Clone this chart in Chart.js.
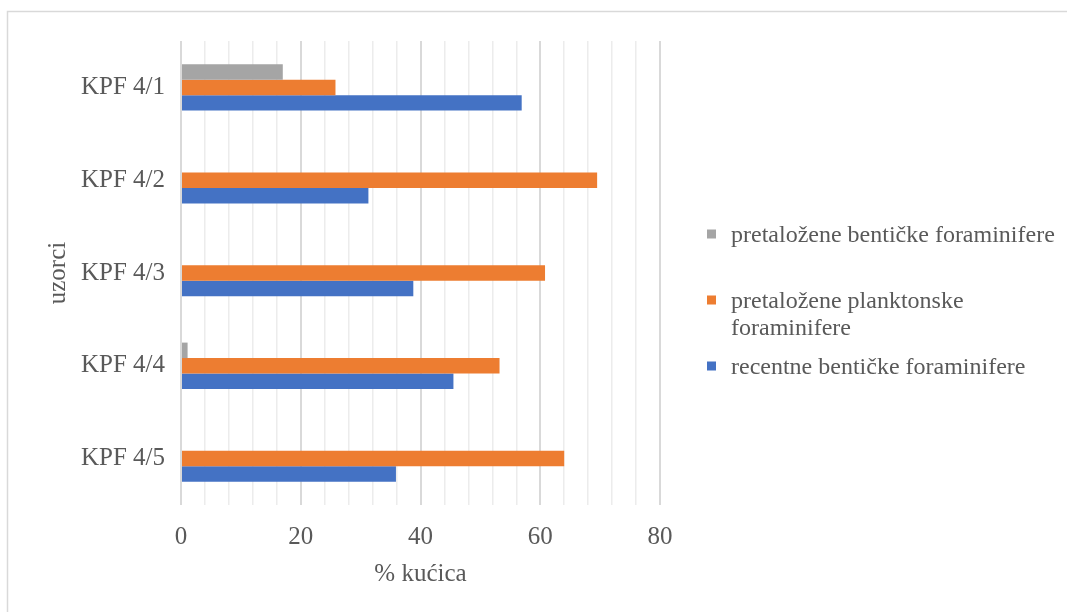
<!DOCTYPE html>
<html>
<head>
<meta charset="utf-8">
<script src="https://cdn.jsdelivr.net/npm/chart.js@4.4.1/dist/chart.umd.min.js"></script>
<style>
    html, body { margin: 0; padding: 0; background: #fff; }
    #okvir { width: 1067px; height: 612px; position: relative; }
</style>
</head>
<body>
<div id="okvir"><canvas id="graf"></canvas></div>
<script>
// ── Podaci ────────────────────────────────────────────────────────────
const uzorci = ['KPF 4/1', 'KPF 4/2', 'KPF 4/3', 'KPF 4/4', 'KPF 4/5'];
const pretalozeneBenticke    = [17, 0, 0, 1.1, 0];
const pretalozenePlanktonske = [25.8, 69.5, 60.8, 53.2, 64];
const recentneBenticke       = [56.9, 31.3, 38.8, 45.5, 35.9];
const nazivi = [
    'pretaložene bentičke foraminifere',
    'pretaložene planktonske foraminifere',
    'recentne bentičke foraminifere',
];
const boje = ['#a5a5a5', '#ed7d31', '#4472c4'];
const glavniKorak = 20;   // označene vrijednosti osi x: 0, 20, 40, 60, 80
const sporedniKorak = 4;  // svijetle pomoćne linije
const xMax = 80;

const FONT = '"Liberation Serif", "Times New Roman", serif';
const SIVA = '#595959';

// okvir oko cijelog grafikona
const okvirPlugin = {
    id: 'okvir',
    beforeDraw(chart) {
        const ctx = chart.ctx;
        ctx.save();
        ctx.strokeStyle = '#d9d9d9';
        ctx.lineWidth = 1.5;
        ctx.strokeRect(7.5, 11.5, chart.width + 20, chart.height + 20);
        ctx.restore();
    },
};

// legenda desno, s prelamanjem dugih naziva
const legendaPlugin = {
    id: 'legenda',
    afterDraw(chart) {
        const ctx = chart.ctx;
        const x0 = chart.chartArea.right + 47;
        const maxSirina = 330;
        ctx.save();
        ctx.font = '24px ' + FONT;
        ctx.textBaseline = 'middle';
        ctx.fillStyle = SIVA;
        let y = 234;
        chart.data.datasets.forEach((ds) => {
            // prelamanje riječi
            const rijeci = ds.label.split(' ');
            const redovi = [];
            let red = '';
            rijeci.forEach((r) => {
                const probni = red ? red + ' ' + r : r;
                if (ctx.measureText(probni).width > maxSirina && red) {
                    redovi.push(red);
                    red = r;
                } else {
                    red = probni;
                }
            });
            redovi.push(red);

            ctx.fillStyle = ds.backgroundColor;
            ctx.fillRect(x0, y - 4.5, 9, 9);
            ctx.fillStyle = SIVA;
            redovi.forEach((t, i) => ctx.fillText(t, x0 + 24, y + 2 + i * 27));
            y += 66;
        });
        ctx.restore();
    },
};

new Chart(document.getElementById('graf'), {
    type: 'bar',
    data: {
        labels: uzorci,
        datasets: [
            { label: nazivi[0], data: pretalozeneBenticke,    backgroundColor: boje[0] },
            { label: nazivi[1], data: pretalozenePlanktonske, backgroundColor: boje[1] },
            { label: nazivi[2], data: recentneBenticke,       backgroundColor: boje[2] },
        ],
    },
    options: {
        indexAxis: 'y',
        responsive: true,
        maintainAspectRatio: false,
        animation: false,
        layout: { padding: { left: 28, top: 41, right: 407, bottom: 0 } },
        datasets: { bar: { categoryPercentage: 0.5, barPercentage: 1, borderWidth: 0 } },
        plugins: {
            legend: { display: false },
            tooltip: { enabled: false },
        },
        scales: {
            x: {
                min: 0,
                max: xMax,
                border: { display: false },
                grid: {
                    drawTicks: false,
                    color: (c) => (c.tick && c.tick.value % glavniKorak === 0 ? '#d9d9d9' : '#ececec'),
                    lineWidth: (c) => (c.tick && c.tick.value % glavniKorak === 0 ? 2 : 1.5),
                },
                ticks: {
                    stepSize: sporedniKorak,
                    autoSkip: false,
                    maxRotation: 0,
                    padding: 17,
                    color: SIVA,
                    font: { family: FONT, size: 25 },
                },
                title: {
                    display: true,
                    text: '% kućica',
                    color: SIVA,
                    font: { family: FONT, size: 25 },
                    padding: { top: 0, bottom: 23 },
                },
                afterFit: (s) => { s.height = 107; },
            },
            y: {
                border: { display: false },
                grid: { display: false, drawTicks: false },
                ticks: {
                    padding: 16,
                    color: SIVA,
                    font: { family: FONT, size: 25 },
                },
                title: {
                    display: true,
                    text: 'uzorci',
                    color: SIVA,
                    font: { family: FONT, size: 25 },
                    padding: { top: 15, bottom: 0 },
                },
                afterFit: (s) => { s.width = 153; },
            },
        },
    },
    plugins: [okvirPlugin, legendaPlugin],
});

// oznake osi x samo na glavnim vrijednostima
Chart.getChart('graf').options.scales.x.ticks.callback = (v) => (v % glavniKorak === 0 ? v : '');
Chart.getChart('graf').update();
</script>
</body>
</html>
